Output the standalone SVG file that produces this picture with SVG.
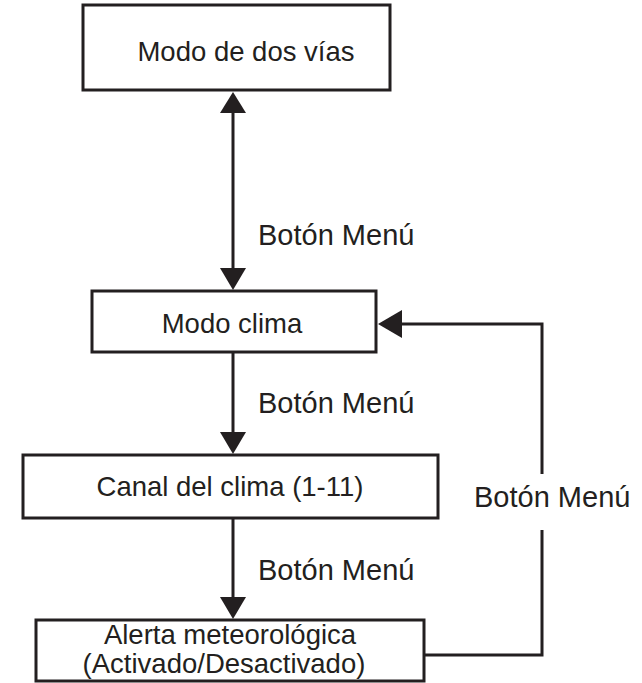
<svg xmlns="http://www.w3.org/2000/svg" width="642" height="683" viewBox="0 0 642 683">
<style>
.box{fill:#fff;stroke:#231f20;stroke-width:3}
.ln{fill:none;stroke:#231f20;stroke-width:3}
.ah{fill:#231f20}
text{font-family:"Liberation Sans",Arial,sans-serif;font-size:27.5px;fill:#231f20}
.lbl{font-size:29px}
.c{text-anchor:middle}
</style>
<rect width="642" height="683" fill="#fff"/>
<g id="connectors">
<line class="ln" x1="233" y1="108" x2="233" y2="272"/>
<polygon class="ah" points="233,92 220,113 246,113"/>
<polygon class="ah" points="233,290 220,268 246,268"/>
<line class="ln" x1="233" y1="352" x2="233" y2="438"/>
<polygon class="ah" points="233,454 220,432 246,432"/>
<line class="ln" x1="233" y1="518" x2="233" y2="602"/>
<polygon class="ah" points="233,619 220,597 246,597"/>
<polyline class="ln" points="425,655 542,655 542,530"/>
<polyline class="ln" points="542,474 542,324 400,324"/>
<polygon class="ah" points="378,324 402,310 402,338"/>
<text class="lbl" x="258" y="245">Botón Menú</text>
<text class="lbl" x="258" y="413">Botón Menú</text>
<text class="lbl" x="258" y="580">Botón Menú</text>
<text class="lbl" x="474" y="507">Botón Menú</text>
</g>
<g id="n1"><rect class="box" x="83" y="5" width="307" height="85"/><text class="c" x="246" y="61">Modo de dos vías</text></g>
<g id="n2"><rect class="box" x="92" y="291" width="284" height="61"/><text class="c" x="232" y="333">Modo clima</text></g>
<g id="n3"><rect class="box" x="23" y="455" width="415" height="63"/><text class="c" x="230" y="496">Canal del clima (1-11)</text></g>
<g id="n4"><rect class="box" x="36" y="620" width="388" height="61"/><text class="c" x="230" y="644">Alerta meteorológica</text><text class="c" x="224" y="673">(Activado/Desactivado)</text></g>
</svg>
